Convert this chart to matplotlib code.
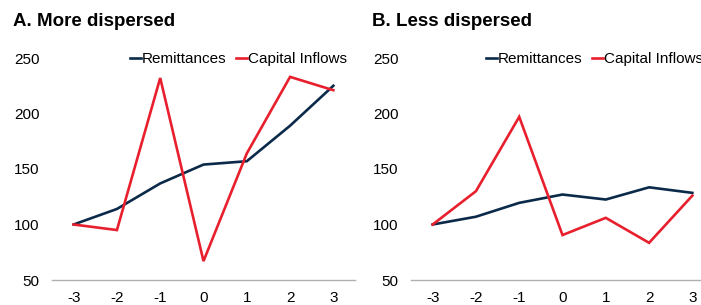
import matplotlib
matplotlib.use("Agg")
import matplotlib.pyplot as plt

plt.rcParams['font.family'] = ['Liberation Sans', 'DejaVu Sans']

x_labels = ["-3", "-2", "-1", "0", "1", "2", "3"]
x_vals = [-3, -2, -1, 0, 1, 2, 3]

remit_a = [100, 114, 137, 154, 157, 189, 225]
capital_a = [100, 95, 232, 67, 164, 233, 221]
remit_b = [100, 107, 119.5, 127, 122.5, 133.5, 128.5]
capital_b = [100, 130, 197, 90.5, 106, 83.5, 126]

titles = ["A. More dispersed", "B. Less dispersed"]
y_ticks = [50, 100, 150, 200, 250]

navy = "#0b2a4a"
red = "#e8202e"

fig = plt.figure(figsize=(7.01, 3.05), dpi=100)
W, H = 701, 305
ax_a = fig.add_axes([52 / W, 1 - 280 / H, 303 / W, 222 / H])
ax_b = fig.add_axes([411 / W, 1 - 280 / H, 303 / W, 222 / H])

for ax, rem, cap, title, tx, lx in [(ax_a, remit_a, capital_a, titles[0], 13, 0.257),
                                    (ax_b, remit_b, capital_b, titles[1], 372, 0.246)]:
    ax.plot(x_vals, rem, color=navy, lw=1.9, label="Remittances", solid_joinstyle='miter')
    ax.plot(x_vals, cap, color=red, lw=1.9, label="Capital Inflows", solid_joinstyle='miter')
    ax.set_xlim(-3.5, 3.5)
    ax.set_ylim(50, 250)
    ax.set_xticks(x_vals)
    ax.set_xticklabels(x_labels)
    ax.set_yticks(y_ticks)
    for s in ["top", "right", "left"]:
        ax.spines[s].set_visible(False)
    ax.spines["bottom"].set_color("#b0b0b0")
    ax.spines["bottom"].set_linewidth(1.0)
    ax.tick_params(axis="both", length=0, labelsize=11, colors="black")
    ax.tick_params(axis="y", pad=9)
    ax.tick_params(axis="x", pad=8)
    ax.legend(loc="center left", bbox_to_anchor=(lx, 0.995), ncol=2, frameon=False,
              fontsize=11, handlelength=0.75, handletextpad=0.05, columnspacing=0.6,
              borderaxespad=0, borderpad=0)
    fig.text(tx / W, 1 - 22 / H, title, fontsize=13.5, fontweight="bold", va="center", ha="left")

fig.savefig("out.png", dpi=100)
